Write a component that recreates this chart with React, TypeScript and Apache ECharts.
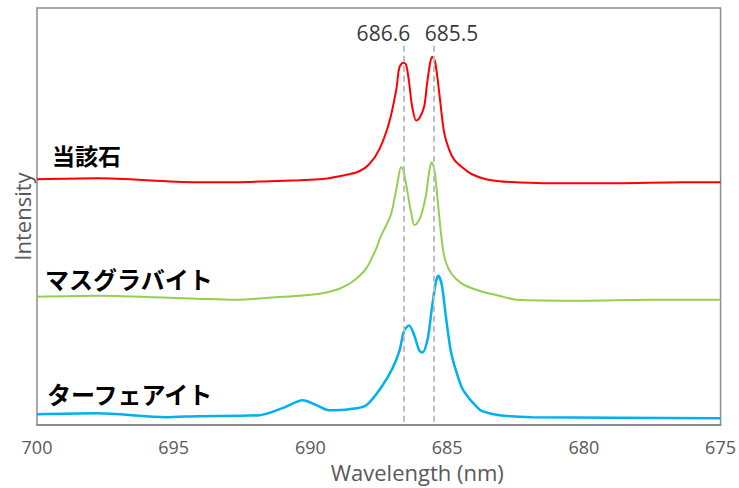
import React, { useEffect, useRef } from "react";
import * as echarts from "echarts";

// Wavelength (nm) and relative intensity
const redWl = [700, 697.81, 694.16, 692.7, 691.5, 690.4, 689.67, 689.31, 688.94, 688.58, 688.21, 687.85, 687.48, 687.12, 686.86, 686.75, 686.61, 686.5, 686.39, 686.28, 686.13, 686.02, 685.84, 685.73, 685.62, 685.55, 685.44, 685.29, 685.11, 684.93, 684.75, 684.45, 684.09, 683.58, 683.1, 682.48, 681.28, 678.83, 676.42, 675];
const redVal = [247, 248, 244, 244, 245, 246, 247, 248, 250, 252, 255, 262, 277, 304, 337, 359, 364, 362, 344, 320, 306, 308, 320, 344, 364, 370, 365, 334, 294, 277, 267, 259, 252, 247, 245, 244, 243, 243, 244, 244];

const greenWl = [700, 697.81, 694.16, 692.7, 691.5, 690.4, 689.67, 689.31, 688.94, 688.47, 687.97, 687.6, 687.42, 687.24, 687.05, 686.93, 686.81, 686.69, 686.61, 686.45, 686.32, 686.2, 686.12, 685.96, 685.78, 685.66, 685.57, 685.47, 685.35, 685.23, 685.11, 684.93, 684.68, 684.32, 683.71, 683.1, 682.48, 680.07, 677.63, 675];
const greenVal = [129, 130, 127, 126, 128, 130, 132, 134, 137, 144, 157, 177, 190, 200, 212, 227, 244, 259, 257, 234, 214, 201, 202, 210, 230, 254, 264, 257, 227, 194, 170, 156, 147, 140, 134, 130, 126, 125, 126, 126];

const blueWl = [700, 697.81, 695.26, 694.16, 691.86, 691.02, 690.28, 689.78, 689.31, 688.58, 687.96, 687.36, 687.0, 686.75, 686.57, 686.39, 686.2, 686.02, 685.9, 685.71, 685.56, 685.41, 685.32, 685.19, 685.05, 684.87, 684.68, 684.45, 684.2, 683.94, 683.72, 683.1, 681.9, 675];
const blueVal = [11, 12, 8, 9, 10, 17, 25, 20, 15, 16, 20, 40, 57, 74, 95, 100, 90, 75, 73, 87, 117, 144, 150, 140, 110, 75, 55, 37, 27, 19, 14, 10, 8, 7];

const seriesNames = ["当該石", "マスグラバイト", "ターフェアイト"];
const peakLines = [686.6, 685.5];
const xTicks = [700, 695, 690, 685, 680, 675];

const pairs = (xs: number[], ys: number[]) => xs.map((x, i) => [x, ys[i]]);

export default function App() {
  const ref = useRef<HTMLDivElement>(null);
  useEffect(() => {
    if (!ref.current) return;
    const chart = echarts.init(ref.current, null, { renderer: "svg" });
    const latin = "'Open Sans', 'Noto Sans', sans-serif";
    const cjk = "'Noto Sans CJK JP', sans-serif";
    const lineBase = {
      type: "line",
      z: 3,
      showSymbol: false,
      smooth: 0.3,
    };
    chart.setOption({
      animation: false,
      grid: {
        left: 37,
        right: 17,
        top: 8,
        bottom: 61,
        show: true,
        borderColor: "#8c8c8c",
        borderWidth: 1.5,
      },
      xAxis: {
        type: "value",
        inverse: true,
        min: xTicks[xTicks.length - 1],
        max: xTicks[0],
        interval: 5,
        axisLine: { show: true, lineStyle: { color: "#8c8c8c", width: 2 } },
        axisTick: { show: false },
        splitLine: { show: false },
        axisLabel: { color: "#595959", fontSize: 18, fontFamily: latin, margin: 13 },
        name: "Wavelength (nm)",
        nameLocation: "middle",
        nameGap: 32,
        nameTextStyle: { color: "#595959", fontSize: 22, fontFamily: latin, padding: [0, 0, 0, 77] },
      },
      yAxis: {
        type: "value",
        min: 0,
        max: 419,
        axisLine: { show: false },
        axisTick: { show: false },
        axisLabel: { show: false },
        splitLine: { show: false },
        name: "Intensity",
        nameLocation: "middle",
        nameGap: 4,
        nameTextStyle: { color: "#595959", fontSize: 22, fontFamily: latin },
      },
      series: [
        {
          name: "peaks",
          type: "scatter",
          z: 1,
          silent: true,
          symbolSize: 0,
          data: [
            { value: [peakLines[0], 394], label: { offset: [-20, 0] } },
            { value: [peakLines[1], 394], label: { offset: [18, 0] } },
          ],
          label: {
            show: true,
            position: "inside",
            color: "#000",
            fontSize: 21,
            fontFamily: latin,
            formatter: (p: any) => p.value[0].toFixed(1),
          },
          markLine: {
            silent: true,
            symbol: "none",
            label: { show: false },
            lineStyle: { type: [6, 4], color: "#bfbfbf", width: 2 },
            data: peakLines.map((w) => [{ coord: [w, 381] }, { coord: [w, 0] }]),
          },
        },
        {
          ...lineBase,
          name: seriesNames[0],
          lineStyle: { color: "#ff0000", width: 2 },
          data: pairs(redWl, redVal),
        },
        {
          ...lineBase,
          name: seriesNames[1],
          lineStyle: { color: "#92d050", width: 2 },
          data: pairs(greenWl, greenVal),
        },
        {
          ...lineBase,
          name: seriesNames[2],
          lineStyle: { color: "#00b0f0", width: 2.5 },
          data: pairs(blueWl, blueVal),
        },
      ],
      graphic: [
        { type: "text", left: 52, top: 143, style: { text: seriesNames[0], font: `bold 23px ${cjk}`, fill: "#000" } },
        { type: "text", left: 45, top: 266, style: { text: seriesNames[1], font: `bold 24px ${cjk}`, fill: "#000" } },
        { type: "text", left: 47, top: 381, style: { text: seriesNames[2], font: `bold 24px ${cjk}`, fill: "#000" } },
      ],
    });
    return () => chart.dispose();
  }, []);
  return (
    <div
      ref={ref}
      style={{ position: "fixed", left: 0, top: 0, width: 739, height: 488, background: "#fff" }}
    />
  );
}
